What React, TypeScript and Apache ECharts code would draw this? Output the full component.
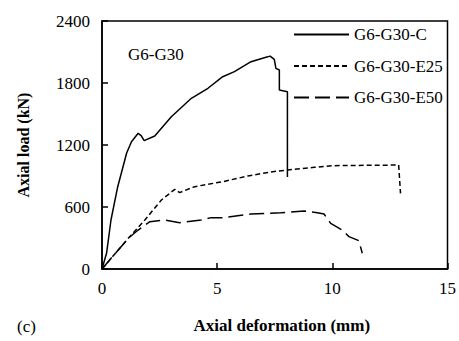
import React, { useEffect, useRef } from "react";
import * as echarts from "echarts";

const seriesNames = ["G6-G30-C", "G6-G30-E25", "G6-G30-E50"];

const cX = [0, 0.2, 0.39, 0.68, 1.07, 1.28, 1.57, 1.7, 1.83, 2.29, 3.01, 3.88, 4.6, 5.24, 5.75, 6.47, 7.12, 7.3, 7.48, 7.55, 7.7, 7.7, 8.05, 8.05];
const cY = [0, 155, 474, 794, 1123, 1232, 1313, 1290, 1242, 1287, 1474, 1652, 1749, 1861, 1910, 2006, 2049, 2060, 2029, 1942, 1926, 1732, 1716, 890];

const e25X = [0, 0.5, 1.14, 1.86, 2.58, 3.16, 3.37, 4.02, 5.24, 6.33, 7.41, 8.06, 9.21, 10.0, 12.88, 12.96];
const e25Y = [0, 130, 297, 474, 668, 771, 739, 797, 845, 900, 942, 958, 984, 1000, 1006, 732];

const e50X = [0, 0.5, 1.14, 1.57, 2.08, 2.72, 3.37, 4.31, 4.74, 5.24, 6.47, 7.77, 8.78, 9.35, 9.64, 9.93, 10.43, 10.72, 11.15, 11.3];
const e50Y = [0, 130, 297, 377, 458, 474, 448, 474, 497, 497, 532, 545, 561, 545, 532, 442, 377, 313, 274, 152];

const xTicks = [0, 5, 10, 15];
const yTicks = [0, 600, 1200, 1800, 2400];

const FONT = "'Liberation Serif', 'Times New Roman', serif";

function pairs(xs: number[], ys: number[]) {
  return xs.map((x, i) => [x, ys[i]]);
}

export default function App() {
  const ref = useRef<HTMLDivElement>(null);
  useEffect(() => {
    if (!ref.current) return;
    const chart = echarts.init(ref.current, null, { renderer: "svg" });
    const lineBase = { color: "#000", width: 1.5 };
    chart.setOption({
      animation: false,
      backgroundColor: "#fff",
      grid: {
        left: 102,
        top: 21,
        right: 10,
        bottom: 72,
        show: true,
        borderColor: "#000",
        borderWidth: 1.5,
      },
      legend: {
        orient: "vertical",
        left: 293,
        top: 26,
        padding: 0,
        itemWidth: 55,
        itemHeight: 14,
        itemGap: 14.5,
        itemStyle: { opacity: 0 },
        textStyle: { fontFamily: FONT, fontSize: 17, color: "#000" },
        data: seriesNames,
      },
      xAxis: {
        type: "value",
        min: xTicks[0],
        max: xTicks[xTicks.length - 1],
        interval: 5,
        name: "Axial deformation (mm)",
        nameLocation: "middle",
        nameGap: 48,
        nameTextStyle: {
          fontFamily: FONT,
          fontSize: 17,
          fontWeight: "bold",
          color: "#000",
          padding: [0, 0, 0, 14],
        },
        axisLine: { lineStyle: { color: "#000", width: 1.5 } },
        axisTick: { inside: true, length: 6, lineStyle: { color: "#000", width: 1.5 } },
        axisLabel: { fontFamily: FONT, fontSize: 17, color: "#000", margin: 11, formatter: (v: number) => String(v) },
        splitLine: { show: false },
      },
      yAxis: {
        type: "value",
        min: yTicks[0],
        max: yTicks[yTicks.length - 1],
        interval: 600,
        name: "Axial load (kN)",
        nameLocation: "middle",
        nameGap: 71,
        nameTextStyle: {
          fontFamily: FONT,
          fontSize: 16,
          fontWeight: "bold",
          color: "#000",
        },
        axisLine: { lineStyle: { color: "#000", width: 1.5 } },
        axisTick: { inside: true, length: 6, lineStyle: { color: "#000", width: 1.5 } },
        axisLabel: { fontFamily: FONT, fontSize: 17, color: "#000", margin: 12, formatter: (v: number) => String(v) },
        splitLine: { show: false },
      },
      graphic: [
        {
          type: "text",
          left: 128,
          top: 46,
          style: { text: "G6-G30", font: `17px ${FONT}`, fill: "#000" },
        },
        {
          type: "text",
          left: 17,
          top: 318,
          style: { text: "(c)", font: `17px ${FONT}`, fill: "#000" },
        },
      ],
      series: [
        {
          name: seriesNames[0],
          type: "line",
          symbol: "none",
          data: pairs(cX, cY),
          lineStyle: { ...lineBase, type: "solid" },
          itemStyle: { color: "#000" },
        },
        {
          name: seriesNames[1],
          type: "line",
          symbol: "none",
          data: pairs(e25X, e25Y),
          lineStyle: { ...lineBase, type: [5, 3] },
          itemStyle: { color: "#000" },
        },
        {
          name: seriesNames[2],
          type: "line",
          symbol: "none",
          data: pairs(e50X, e50Y),
          lineStyle: { ...lineBase, type: [15, 6] },
          itemStyle: { color: "#000" },
        },
      ],
    });
    return () => chart.dispose();
  }, []);
  return <div ref={ref} style={{ width: 459, height: 341, position: "absolute", left: 0, top: 0 }} />;
}
